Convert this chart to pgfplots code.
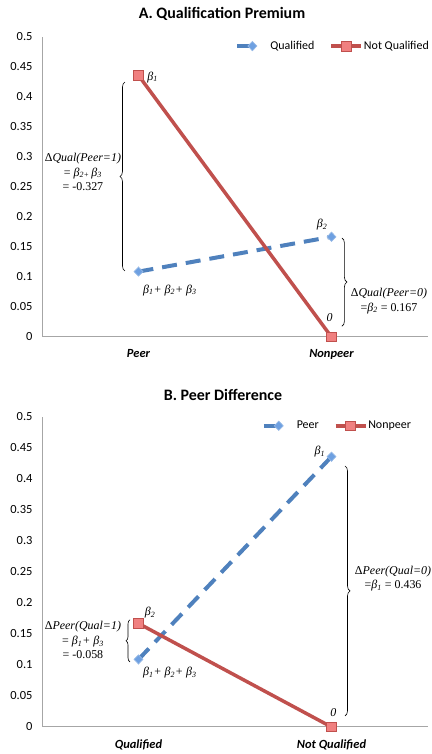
\documentclass[border=0pt]{standalone}
\usepackage{pgfplots}
\pgfplotsset{compat=1.18}
\usepackage{fontspec}
\setmainfont{Carlito}
\newfontfamily\tnr{Liberation Serif}
\usetikzlibrary{decorations.pathreplacing}
\definecolor{exred}{RGB}{192,80,77}
\definecolor{exredfill}{RGB}{240,128,128}
\definecolor{exblue}{RGB}{79,129,189}
\definecolor{exbluefill}{RGB}{110,160,225}
\definecolor{exbluelight}{RGB}{150,185,230}
\definecolor{axisgray}{RGB}{166,166,166}
\tikzset{
 ann/.style={font=\tnr\fontsize{12}{14.5}\selectfont, inner sep=0pt},
 br/.style={decorate, decoration={brace, amplitude=5bp}, line width=0.6bp, black},
}
\pgfplotsset{
 panel/.style={
  scale only axis, width=386bp,
  xmin=-0.5, xmax=1.5, ymin=0, ymax=0.5,
  axis x line=bottom, axis y line=left,
  axis line style={draw=axisgray, line width=1bp, -},
  xtick={0,1},
  ytick={0,0.05,0.1,0.15,0.2,0.25,0.3,0.35,0.4,0.45,0.5},
  major tick length=0pt,
  scaled y ticks=false,
  /pgf/number format/fixed,
  /pgf/number format/precision=2,
  /pgf/number format/assume math mode=true,
  yticklabel style={font=\fontsize{12.5}{14}\selectfont, xshift=-6bp},
  xticklabel style={font=\fontsize{12.5}{14}\selectfont\bfseries\itshape, yshift=-9bp},
  clip=false,
  legend columns=2,
  legend style={draw=none, fill=none, font=\fontsize{12}{14}\selectfont,
    nodes={inner sep=1bp},
    /tikz/every even column/.append style={column sep=14bp}},
 },
 redline/.style={color=exred, line width=3.5bp, mark=square*, mark size=4.8bp,
   mark options={solid, fill=exredfill, draw=exred, line width=0.7bp},
   legend image code/.code={\draw[mark repeat=2,mark phase=2,##1] plot coordinates {(0bp,0bp)(15bp,0bp)(30bp,0bp)};}},
 blueline/.style={color=exblue, line width=4bp, line cap=butt, dash pattern=on 15bp off 9bp, mark=diamond*, mark size=4.6bp,
   mark options={solid, fill=exbluefill, draw=exbluelight, line width=0.7bp, xscale=1.3},
   legend image code/.code={\draw[mark repeat=2,mark phase=2,##1, dash pattern=on 16bp off 20bp] plot coordinates {(0bp,0bp)(15bp,0bp)(30bp,0bp)};}},
}
\begin{document}
\begin{tikzpicture}
\useasboundingbox (0,0) rectangle (432bp,754bp);
\node[font=\fontsize{16}{18}\selectfont\bfseries] at (222bp,740bp) {A. Qualification Premium};
\node[font=\fontsize{16}{18}\selectfont\bfseries] at (223bp,359bp) {B. Peer Difference};
\begin{axis}[panel, height=300bp, at={(42bp,417bp)}, anchor=south west,
  xticklabels={Peer, Nonpeer},
  legend style={at={(axis description cs:1,1)}, anchor=north east, yshift=-1bp, xshift=5bp}]
\addplot[blueline] coordinates {(0,0.109) (1,0.167)};
\addlegendentry{Qualified}
\addplot[redline] coordinates {(0,0.436) (1,0)};
\addlegendentry{Not Qualified}
\draw[br] (axis cs:-0.07,0.11) -- (axis cs:-0.07,0.425);
\node[ann, align=center] at (axis cs:-0.288,0.275) {Δ\textit{Qual(Peer=1)}\\= \textit{β\textsubscript{2+}\,β\textsubscript{3}}\\= -0.327};
\draw[br] (axis cs:1.054,0.165) -- (axis cs:1.054,0.018);
\node[ann, align=center] at (axis cs:1.298,0.06) {Δ\textit{Qual(Peer=0)}\\=\textit{β\textsubscript{2}} = 0.167};
\node[ann, anchor=west] at (axis cs:0.045,0.433) {\textit{β\textsubscript{1}}};
\node[ann] at (axis cs:0.951,0.187) {\textit{β\textsubscript{2}}};
\node[ann] at (axis cs:0.163,0.078) {\textit{β\textsubscript{1}+ β\textsubscript{2}+ β\textsubscript{3}}};
\node[ann] at (axis cs:0.99,0.032) {\textit{0}};
\end{axis}
\begin{axis}[panel, height=310bp, at={(42bp,27bp)}, anchor=south west,
  xticklabels={Qualified, Not Qualified},
  legend style={at={(axis description cs:0.964,1)}, anchor=north east, yshift=-1bp, xshift=1bp}]
\addplot[blueline] coordinates {(0,0.109) (1,0.436)};
\addlegendentry{Peer}
\addplot[redline] coordinates {(0,0.167) (1,0)};
\addlegendentry{Nonpeer}
\draw[br] (axis cs:1.07,0.421) -- (axis cs:1.07,0.018);
\node[ann, align=center] at (axis cs:1.319,0.239) {Δ\textit{Peer(Qual=0)}\\=\textit{β\textsubscript{1}} = 0.436};
\draw[br, decoration={brace, amplitude=4bp}] (axis cs:-0.044,0.105) -- (axis cs:-0.044,0.173);
\node[ann, align=center] at (axis cs:-0.288,0.14) {Δ\textit{Peer(Qual=1)}\\= \textit{β\textsubscript{1}+ β\textsubscript{3}}\\= -0.058};
\node[ann] at (axis cs:0.06,0.185) {\textit{β\textsubscript{2}}};
\node[ann] at (axis cs:0.94,0.444) {\textit{β\textsubscript{1}}};
\node[ann] at (axis cs:0.163,0.087) {\textit{β\textsubscript{1}+ β\textsubscript{2}+ β\textsubscript{3}}};
\node[ann] at (axis cs:1.01,0.023) {\textit{0}};
\end{axis}
\end{tikzpicture}
\end{document}
